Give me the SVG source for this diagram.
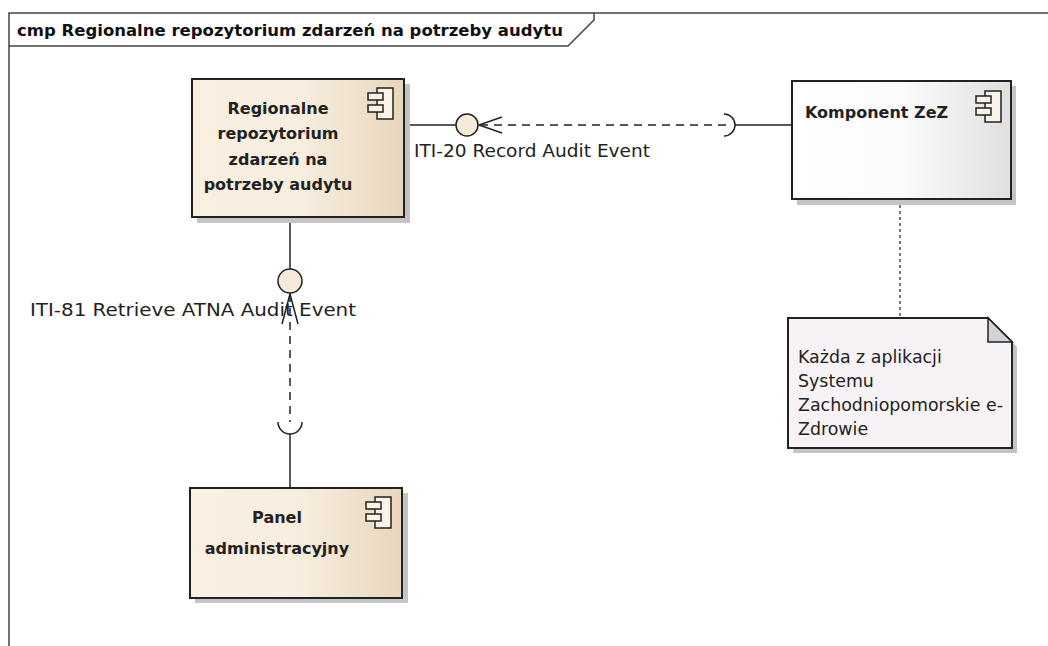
<svg xmlns="http://www.w3.org/2000/svg" width="1048" height="646" viewBox="0 0 1048 646">
<defs>
<linearGradient id="gBeige" x1="0" y1="0" x2="1" y2="0">
<stop offset="0" stop-color="#faf0e2"/>
<stop offset="0.5" stop-color="#f8eee0"/>
<stop offset="1" stop-color="#e8d6bc"/>
</linearGradient>
<linearGradient id="gWhite" x1="0" y1="0" x2="1" y2="0">
<stop offset="0" stop-color="#ffffff"/>
<stop offset="0.5" stop-color="#fbfbfb"/>
<stop offset="1" stop-color="#e0e0e0"/>
</linearGradient>
<g id="cicon">
<rect x="9" y="0" width="16" height="31" fill="#fbf3e8" stroke="#222" stroke-width="1.5"/>
<rect x="0" y="5" width="15" height="7" fill="#fbf3e8" stroke="#222" stroke-width="1.5"/>
<rect x="0" y="17" width="15" height="7" fill="#fbf3e8" stroke="#222" stroke-width="1.5"/>
</g>
</defs>
<style>
.frame{fill:none;stroke:#444;stroke-width:1.5}
.box{stroke:#222;stroke-width:2}
.shadow{fill:#c4c4c4}
.title{font-family:"DejaVu Sans",Verdana,sans-serif;font-size:16.5px;font-weight:bold;fill:#111}
.name{font-family:"DejaVu Sans",Verdana,sans-serif;font-size:16px;font-weight:bold;fill:#222}
.lbl{font-family:"DejaVu Sans",Verdana,sans-serif;font-size:18.5px;fill:#222}
.note{font-family:"DejaVu Sans",Verdana,sans-serif;font-size:17.4px;fill:#222}
.line{fill:none;stroke:#222;stroke-width:1.5}
.dash{fill:none;stroke:#222;stroke-width:1.5;stroke-dasharray:8,6}
.dot{fill:none;stroke:#222;stroke-width:1.2;stroke-dasharray:3,3}
.iface{fill:#f6ead8;stroke:#222;stroke-width:1.5}
</style>
<rect width="1048" height="646" fill="#ffffff"/>
<g id="frame">
<path class="frame" d="M9,650 L9,13 L1060,13"/>
<path class="frame" d="M9,46 L568,46 L594,20 L594,13"/>
<text class="title" x="17" y="36">cmp Regionalne repozytorium zdarzeń na potrzeby audytu</text>
</g>
<g id="connectors">
<line class="line" x1="404" y1="125" x2="456" y2="125"/>
<line class="dash" x1="480" y1="125" x2="730" y2="125"/>
<path class="line" d="M502,117 L479,125 L502,133"/>
<path class="line" d="M724,114 A11,11 0 0 1 724,136"/>
<line class="line" x1="735" y1="125" x2="792" y2="125"/>
<circle class="iface" cx="467" cy="125" r="11"/>
<line class="line" x1="290" y1="217" x2="290" y2="269"/>
<line class="dash" x1="290" y1="294" x2="290" y2="422"/>
<path class="line" d="M282,324 L290,294 L298,324"/>
<path class="line" d="M278,422 A12,12 0 0 0 302,422"/>
<line class="line" x1="290" y1="434" x2="290" y2="488"/>
<circle class="iface" cx="290" cy="281" r="12"/>
<line class="dot" x1="900" y1="199" x2="900" y2="318"/>
<text class="lbl" x="414" y="157" textLength="236" lengthAdjust="spacingAndGlyphs">ITI-20 Record Audit Event</text>
<text class="lbl" x="30" y="316" textLength="326" lengthAdjust="spacingAndGlyphs">ITI-81 Retrieve ATNA Audit Event</text>
</g>
<g id="regional">
<rect class="shadow" x="197" y="84" width="213" height="139"/>
<rect class="box" x="192" y="79" width="212" height="138" fill="url(#gBeige)"/>
<use href="#cicon" x="368" y="88"/>
<text class="name" text-anchor="middle" x="278" y="114">Regionalne</text>
<text class="name" text-anchor="middle" x="278" y="139">repozytorium</text>
<text class="name" text-anchor="middle" x="278" y="165">zdarzeń na</text>
<text class="name" text-anchor="middle" x="278" y="190">potrzeby audytu</text>
</g>
<g id="zez">
<rect class="shadow" x="797" y="86" width="219" height="119"/>
<rect class="box" x="792" y="81" width="219" height="118" fill="url(#gWhite)"/>
<use href="#cicon" x="976" y="91"/>
<text class="name" x="805" y="118">Komponent ZeZ</text>
</g>
<g id="panel">
<rect class="shadow" x="195" y="493" width="213" height="110"/>
<rect class="box" x="190" y="488" width="212" height="110" fill="url(#gBeige)"/>
<use href="#cicon" x="366" y="497"/>
<text class="name" text-anchor="middle" x="277" y="523">Panel</text>
<text class="name" text-anchor="middle" x="277" y="554">administracyjny</text>
</g>
<g id="note">
<path class="shadow" d="M793,323 L993,323 L1017,347 L1017,453 L793,453 Z"/>
<path class="box" d="M788,318 L988,318 L1012,342 L1012,448 L788,448 Z" fill="#f7f2f5"/>
<path d="M988,318 L988,342 L1012,342 Z" fill="#d2d0d8" stroke="#222" stroke-width="1.5"/>
<text class="note" x="798" y="363">Każda z aplikacji</text>
<text class="note" x="798" y="387">Systemu</text>
<text class="note" x="798" y="411">Zachodniopomorskie e-</text>
<text class="note" x="798" y="435">Zdrowie</text>
</g>
</svg>
